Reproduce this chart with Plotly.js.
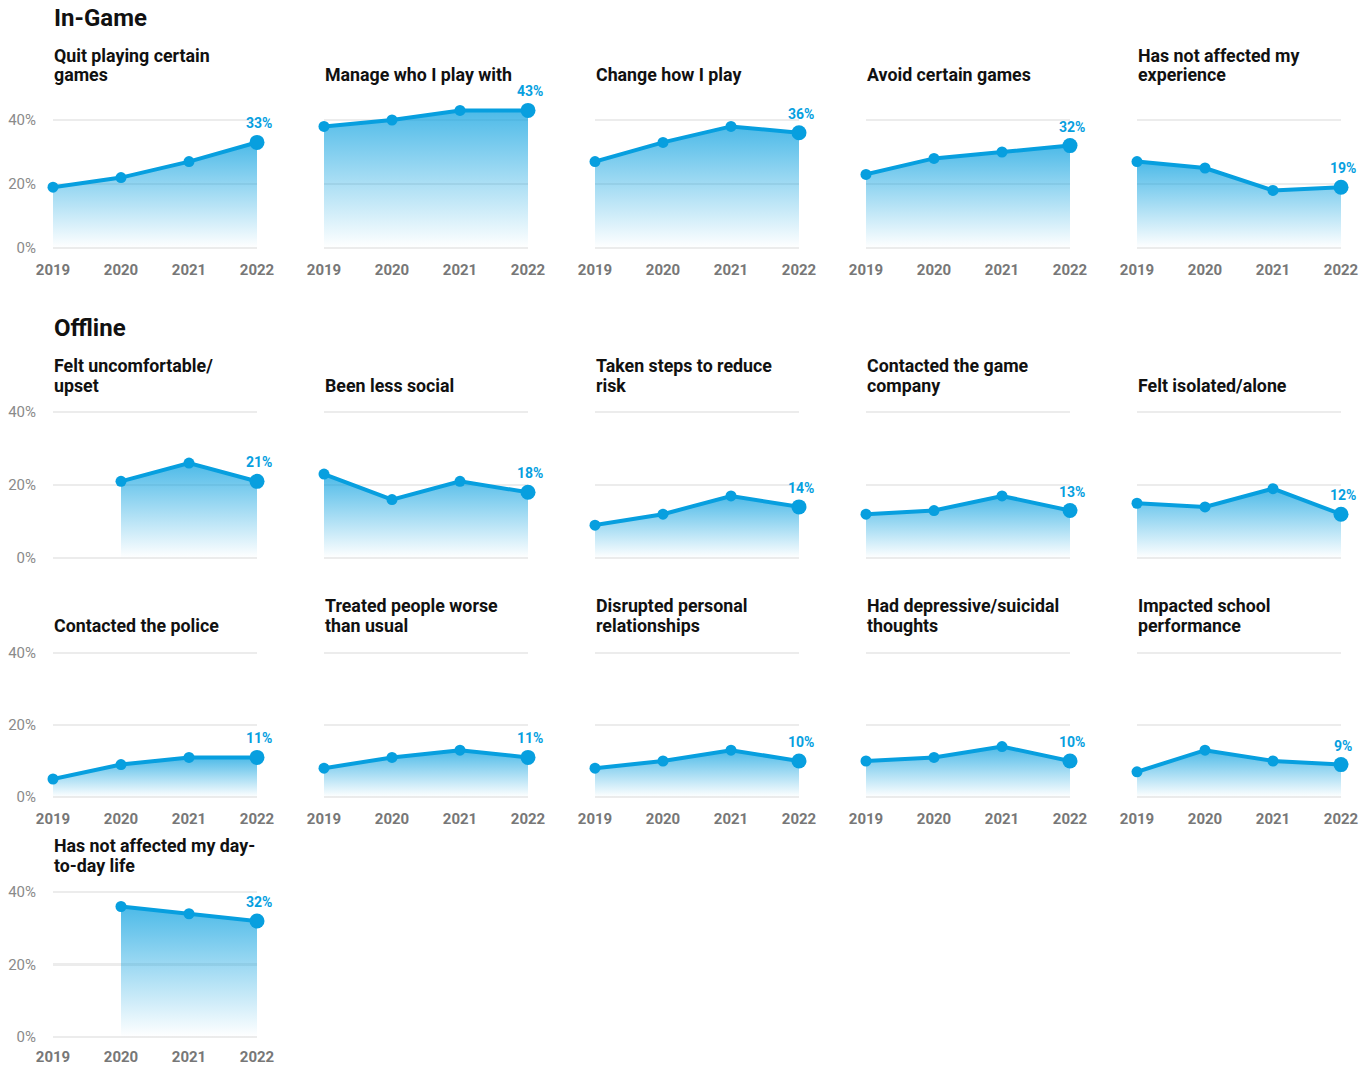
<!DOCTYPE html>
<html>
<head>
<meta charset="utf-8">
<script src="https://cdn.plot.ly/plotly-3.0.1.min.js"></script>
<style>
  html, body { margin: 0; padding: 0; background: #fff; }
  #myPlot { width: 1370px; height: 1066px; }
</style>
</head>
<body>
<div id="myPlot"></div>
<script>
// years on the x axis
var years = [2019, 2020, 2021, 2022];
var yTickVals = [0, 20, 40];
var yTickText = ["0%", "20%", "40%"];

// In-Game panels (titles split into their printed lines)
var inGameTitles = [
  ["Quit playing certain", "games"],
  ["Manage who I play with"],
  ["Change how I play"],
  ["Avoid certain games"],
  ["Has not affected my", "experience"]
];
var quitPlaying   = [19, 22, 27, 33];
var manageWho     = [38, 40, 43, 43];
var changeHow     = [27, 33, 38, 36];
var avoidGames    = [23, 28, 30, 32];
var notAffectedXp = [27, 25, 18, 19];

// Offline panels
var offlineTitles = [
  ["Felt uncomfortable/", "upset"],
  ["Been less social"],
  ["Taken steps to reduce", "risk"],
  ["Contacted the game", "company"],
  ["Felt isolated/alone"],
  ["Contacted the police"],
  ["Treated people worse", "than usual"],
  ["Disrupted personal", "relationships"],
  ["Had depressive/suicidal", "thoughts"],
  ["Impacted school", "performance"],
  ["Has not affected my day-", "to-day life"]
];
var feltUpset       = [null, 21, 26, 21];
var lessSocial      = [23, 16, 21, 18];
var reduceRisk      = [9, 12, 17, 14];
var contactCompany  = [12, 13, 17, 13];
var feltIsolated    = [15, 14, 19, 12];
var contactPolice   = [5, 9, 11, 11];
var treatedWorse    = [8, 11, 13, 11];
var disrupted       = [8, 10, 13, 10];
var depressive      = [10, 11, 14, 10];
var schoolImpact    = [7, 13, 10, 9];
var notAffectedLife = [null, 36, 34, 32];

var panels = [
  {title: inGameTitles[0], v: quitPlaying,   row: 0, col: 0},
  {title: inGameTitles[1], v: manageWho,     row: 0, col: 1},
  {title: inGameTitles[2], v: changeHow,     row: 0, col: 2},
  {title: inGameTitles[3], v: avoidGames,    row: 0, col: 3},
  {title: inGameTitles[4], v: notAffectedXp, row: 0, col: 4},
  {title: offlineTitles[0], v: feltUpset,      row: 1, col: 0},
  {title: offlineTitles[1], v: lessSocial,     row: 1, col: 1},
  {title: offlineTitles[2], v: reduceRisk,     row: 1, col: 2},
  {title: offlineTitles[3], v: contactCompany, row: 1, col: 3},
  {title: offlineTitles[4], v: feltIsolated,   row: 1, col: 4},
  {title: offlineTitles[5], v: contactPolice,  row: 2, col: 0},
  {title: offlineTitles[6], v: treatedWorse,   row: 2, col: 1},
  {title: offlineTitles[7], v: disrupted,      row: 2, col: 2},
  {title: offlineTitles[8], v: depressive,     row: 2, col: 3},
  {title: offlineTitles[9], v: schoolImpact,   row: 2, col: 4},
  {title: offlineTitles[10], v: notAffectedLife, row: 3, col: 0}
];

// pixel geometry of the rows (zero line, px per %, range top, last title line)
var W = 1370, H = 1066;
var rows = [
  {zero: 248,  scale: 3.2,   top: 46, showX: true,  titleY: 75, standoff: 11},
  {zero: 558,  scale: 3.65,  top: 42, showX: false, titleY: 385, standoff: 11},
  {zero: 797,  scale: 3.6,   top: 42, showX: true,  titleY: 625, standoff: 11},
  {zero: 1037, scale: 3.625, top: 42, showX: true,  titleY: 865, standoff: 9}
];
var colLeft = 53, colStep = 271, plotW = 204;

var blue = "#079fdf";
var data = [];
var layout = {
  width: W, height: H,
  margin: {l: 0, r: 0, t: 0, b: 0},
  paper_bgcolor: "#fff",
  plot_bgcolor: "rgba(0,0,0,0)",
  showlegend: false,
  font: {family: "Roboto, sans-serif"},
  annotations: [
    {text: "<b>In-Game</b>", x: 52 / W, y: 1 - 18 / H, xref: "paper", yref: "paper",
     xanchor: "left", yanchor: "middle", showarrow: false,
     font: {size: 24, color: "#111"}},
    {text: "<b>Offline</b>", x: 52 / W, y: 1 - 328 / H, xref: "paper", yref: "paper",
     xanchor: "left", yanchor: "middle", showarrow: false,
     font: {size: 24, color: "#111"}}
  ]
};

panels.forEach(function (p, i) {
  var r = rows[p.row];
  var n = i + 1;
  var xs = [], ys = [], sizes = [];
  for (var k = 0; k < years.length; k++) {
    if (p.v[k] !== null) { xs.push(years[k]); ys.push(p.v[k]); }
  }
  for (var k = 0; k < xs.length; k++) sizes.push(k === xs.length - 1 ? 15 : 11);
  var maxV = Math.max.apply(null, ys);

  data.push({
    x: xs, y: ys, xaxis: "x" + n, yaxis: "y" + n,
    type: "scatter", mode: "lines+markers",
    line: {color: blue, width: 4},
    marker: {color: blue, size: sizes, opacity: 1, line: {width: 0}},
    fill: "tozeroy",
    fillgradient: {type: "vertical", start: 0, stop: maxV,
      colorscale: [[0, "rgba(7,159,223,0)"], [1, "rgba(7,159,223,0.72)"]]},
    cliponaxis: false,
    hoverinfo: "skip"
  });

  var left = colLeft + colStep * p.col;
  layout["xaxis" + n] = {
    domain: [left / W, (left + plotW) / W],
    anchor: "y" + n,
    range: [2019, 2022],
    tickvals: years,
    showticklabels: r.showX,
    tickfont: {size: 15, color: "#777", weight: 700},
    ticklabelstandoff: r.standoff,
    showgrid: false, zeroline: false, showline: false, ticks: "",
    fixedrange: true
  };
  layout["yaxis" + n] = {
    domain: [1 - r.zero / H, 1 - (r.zero - r.top * r.scale) / H],
    anchor: "x" + n,
    range: [0, r.top],
    tickvals: yTickVals,
    ticktext: yTickText,
    showticklabels: p.col === 0,
    tickfont: {size: 15, color: "#8a8a8a"},
    ticklabelstandoff: 16,
    showgrid: true, gridcolor: "#ececec", gridwidth: 2.5,
    zeroline: true, zerolinecolor: "#ececec", zerolinewidth: 2.5,
    showline: false, ticks: "",
    fixedrange: true
  };

  // panel title, one annotation per printed line
  var lines = p.title;
  lines.forEach(function (txt, j) {
    var cy = r.titleY - 20 * (lines.length - 1 - j);
    layout.annotations.push({
      text: "<b>" + txt + "</b>",
      x: (left - 1) / W, y: 1 - cy / H, xref: "paper", yref: "paper",
      xanchor: "left", yanchor: "middle", align: "left", showarrow: false,
      font: {size: 17.8, color: "#111"}
    });
  });

  // last value label
  var last = ys[ys.length - 1];
  layout.annotations.push({
    text: "<b>" + last + "%</b>",
    x: 2022, y: last, xref: "x" + n, yref: "y" + n,
    xanchor: "center", yanchor: "middle", xshift: 2, yshift: 19,
    showarrow: false,
    font: {size: 14, color: blue}
  });
});

Plotly.newPlot("myPlot", data, layout, {displayModeBar: false, staticPlot: true});
</script>
</body>
</html>
